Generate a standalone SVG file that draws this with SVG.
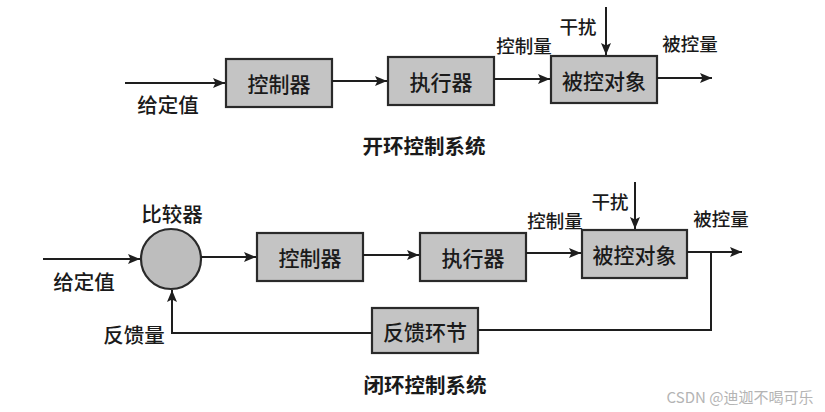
<svg xmlns="http://www.w3.org/2000/svg" width="825" height="412" viewBox="0 0 825 412">
  <style>
    .box { fill: #c4c4c4; stroke: #2a2a2a; stroke-width: 2.2; }
    .circ { fill: #bdbdbd; stroke: #2a2a2a; stroke-width: 2.2; }
    .line { fill: none; stroke: #1e1e1e; stroke-width: 2; }
    text { font-family: "Noto Sans CJK SC", "Noto Sans", sans-serif; fill: #1a1a1a; text-anchor: middle; dominant-baseline: central; }
    .in { font-size: 21px; font-weight: 500; }
    .lbl { font-size: 18.5px; font-weight: 500; }
    .lbl2 { font-size: 20.5px; font-weight: 500; }
    .title { font-size: 20.5px; font-weight: 700; }
    .wm { font-size: 15px; fill: #b4b4b4; font-weight: 400; }
  </style>
  <defs>
    <marker id="arr" viewBox="0 0 12 10" refX="12" refY="5" markerWidth="12" markerHeight="10" markerUnits="userSpaceOnUse" orient="auto">
      <path d="M0,0 L12,5 L0,10 L2.5,5 Z" fill="#1e1e1e"/>
    </marker>
  </defs>

  <!-- Open loop -->
  <g id="ol-controller"><rect class="box" x="226" y="59" width="106" height="48"/><text class="in" x="279" y="83">控制器</text></g>
  <g id="ol-actuator"><rect class="box" x="388" y="57" width="106" height="48"/><text class="in" x="441" y="81">执行器</text></g>
  <g id="ol-plant"><rect class="box" x="551" y="56" width="106" height="47"/><text class="in" x="604" y="79.5">被控对象</text></g>
  <g id="ol-connectors">
    <line class="line" x1="125" y1="83" x2="225" y2="83" marker-end="url(#arr)"/>
    <line class="line" x1="332" y1="81" x2="387" y2="81" marker-end="url(#arr)"/>
    <line class="line" x1="494" y1="79" x2="550" y2="79" marker-end="url(#arr)"/>
    <line class="line" x1="657" y1="78" x2="712" y2="78" marker-end="url(#arr)"/>
    <line class="line" x1="606" y1="7" x2="606" y2="55" marker-end="url(#arr)"/>
  </g>
  <g id="ol-labels">
    <text class="lbl2" x="168" y="104">给定值</text>
    <text class="lbl" x="524" y="45">控制量</text>
    <text class="lbl" x="578" y="26">干扰</text>
    <text class="lbl" x="690" y="43">被控量</text>
    <text class="title" x="424" y="145">开环控制系统</text>
  </g>

  <!-- Closed loop -->
  <g id="cl-comparator"><circle class="circ" cx="171" cy="259" r="30"/></g>
  <g id="cl-controller"><rect class="box" x="257" y="233" width="106" height="48"/><text class="in" x="310" y="257">控制器</text></g>
  <g id="cl-actuator"><rect class="box" x="420" y="233" width="106" height="48"/><text class="in" x="473" y="257">执行器</text></g>
  <g id="cl-plant"><rect class="box" x="582" y="230" width="105" height="48"/><text class="in" x="634.5" y="254">被控对象</text></g>
  <g id="cl-feedback"><rect class="box" x="372" y="308" width="106" height="45"/><text class="in" x="425" y="330.5">反馈环节</text></g>
  <g id="cl-connectors">
    <line class="line" x1="43" y1="259" x2="140" y2="259" marker-end="url(#arr)"/>
    <line class="line" x1="201" y1="257" x2="256" y2="257" marker-end="url(#arr)"/>
    <line class="line" x1="363" y1="255" x2="419" y2="255" marker-end="url(#arr)"/>
    <line class="line" x1="526" y1="253" x2="581" y2="253" marker-end="url(#arr)"/>
    <line class="line" x1="687" y1="252" x2="742" y2="252" marker-end="url(#arr)"/>
    <line class="line" x1="635" y1="182" x2="635" y2="229" marker-end="url(#arr)"/>
    <polyline class="line" points="711,252 711,330 478,330"/>
    <polyline class="line" points="372,333 172,333 172,290" marker-end="url(#arr)"/>
  </g>
  <g id="cl-labels">
    <text class="lbl2" x="172" y="213">比较器</text>
    <text class="lbl2" x="84" y="281">给定值</text>
    <text class="lbl2" x="134" y="334">反馈量</text>
    <text class="lbl" x="555" y="220">控制量</text>
    <text class="lbl" x="610" y="201">干扰</text>
    <text class="lbl" x="721" y="218">被控量</text>
    <text class="title" x="425" y="384">闭环控制系统</text>
  </g>
  <text class="wm" x="740" y="396">CSDN @迪迦不喝可乐</text>
</svg>
